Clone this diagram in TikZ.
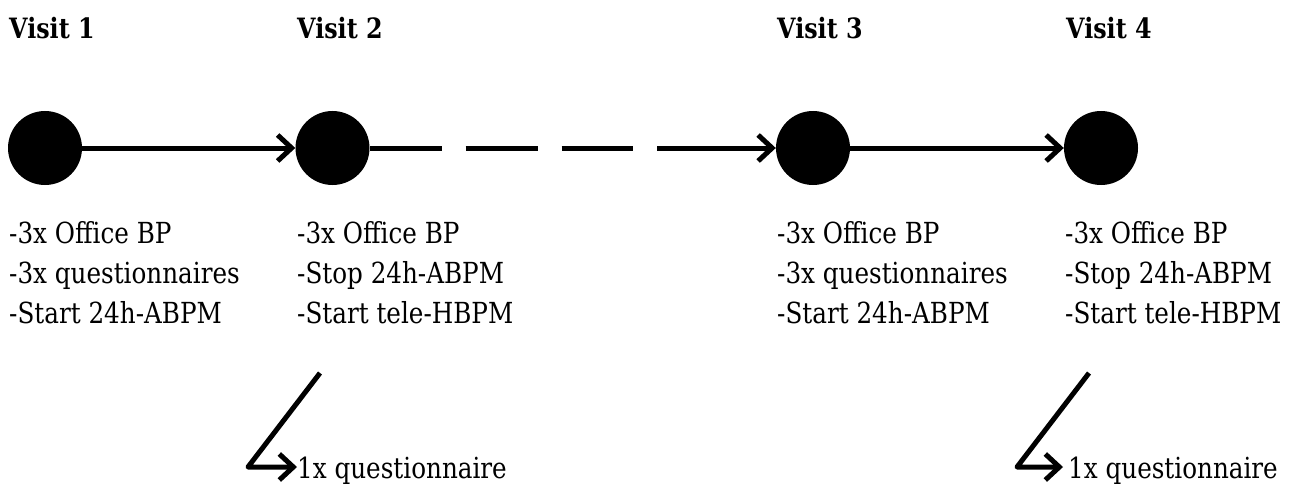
\documentclass[tikz,border=0pt]{standalone}
\usepackage{fontspec}
\setmainfont{DejaVu Serif}[FakeStretch=0.85]
\usetikzlibrary{arrows.meta}
\begin{document}
\begin{tikzpicture}[x=1pt,y=-1pt,
  visit/.style={circle,fill=black,minimum size=74pt,inner sep=0pt},
  lbl/.style={anchor=base west,inner sep=0pt,font=\fontsize{29}{35}\selectfont},
  hdr/.style={anchor=base west,inner sep=0pt,font=\fontsize{28}{34}\selectfont\bfseries},
  conn/.style={line width=5pt},
  arr/.style={conn,-{Straight Barb[length=14pt,width=26pt,line width=5pt]}}]
\useasboundingbox (0,0) rectangle (1295,484);
% headers
\node[hdr] (h1) at (9,39) {Visit 1};
\node[hdr] (h2) at (297,39) {Visit 2};
\node[hdr] (h3) at (777,39) {Visit 3};
\node[hdr] (h4) at (1066,39) {Visit 4};
% circles
\node[visit] (v1) at (45,148) {};
\node[visit] (v2) at (332.5,148) {};
\node[visit] (v3) at (813,148) {};
\node[visit] (v4) at (1101,148) {};
% connectors
\draw[arr] (v1) -- (v2);
\coordinate (m1) at (633,148);
\coordinate (m2) at (657,148);
\draw[conn,dash pattern=on 72pt off 24pt] (v2.east) -- (m1);
\draw[arr] (m2) -- (v3);
\draw[arr] (v3) -- (v4);
% column 1
\node[lbl] (a1) at (9,243) {-3x Office BP};
\node[lbl] (a2) at (9,283) {-3x questionnaires};
\node[lbl] (a3) at (9,323) {-Start 24h-ABPM};
% column 2
\node[lbl] (b1) at (297,243) {-3x Office BP};
\node[lbl] (b2) at (297,283) {-Stop 24h-ABPM};
\node[lbl] (b3) at (297,323) {-Start tele-HBPM};
% column 3
\node[lbl] (c1) at (777,243) {-3x Office BP};
\node[lbl] (c2) at (777,283) {-3x questionnaires};
\node[lbl] (c3) at (777,323) {-Start 24h-ABPM};
% column 4
\node[lbl] (d1) at (1065,243) {-3x Office BP};
\node[lbl] (d2) at (1065,283) {-Stop 24h-ABPM};
\node[lbl] (d3) at (1065,323) {-Start tele-HBPM};
% questionnaire arrows
\node[lbl] (q1) at (297,478) {1x questionnaire};
\node[lbl] (q2) at (1068,478) {1x questionnaire};
\coordinate (t1) at (320,373);
\coordinate (k1) at (248,467);
\coordinate (t2) at (1089,373);
\coordinate (k2) at (1017,467);
\draw[arr,line join=round] (t1) -- (k1) -- (k1 -| q1.west);
\draw[arr,line join=round] (t2) -- (k2) -- ([xshift=-5pt]k2 -| q2.west);
\end{tikzpicture}
\end{document}
